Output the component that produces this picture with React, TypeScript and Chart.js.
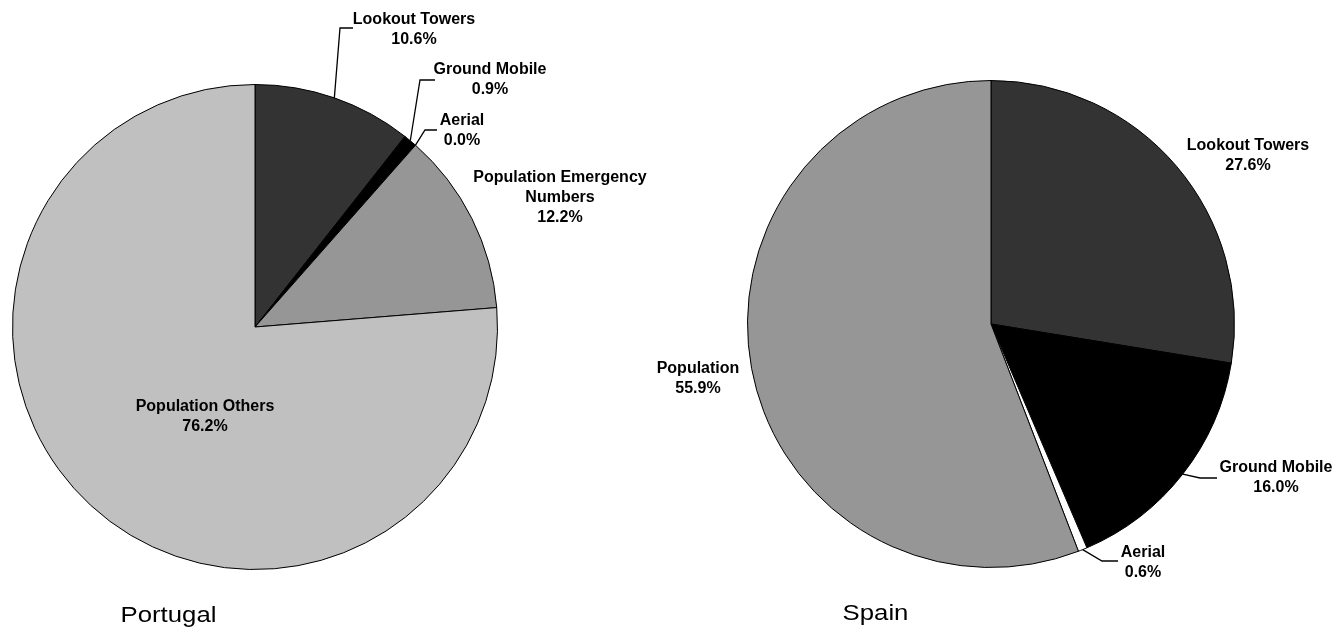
import React, { useEffect, useRef } from "react";
import { Chart, registerables } from "chart.js";

Chart.register(...registerables);

// ---- Data ----
const portugalCategories = [
  "Lookout Towers",
  "Ground Mobile",
  "Aerial",
  "Population Emergency Numbers",
  "Population Others",
];
const portugalValues = [10.6, 0.9, 0.0, 12.2, 76.2];
const portugalColors = ["#333333", "#000000", "#ffffff", "#969696", "#c0c0c0"];

const spainCategories = ["Lookout Towers", "Ground Mobile", "Aerial", "Population"];
const spainValues = [27.6, 16.0, 0.6, 55.9];
const spainColors = ["#333333", "#000000", "#ffffff", "#969696"];

// ---- Layout (pixels, relative to each pie's centre) ----
type LabelLayout = {
  lines: string[];
  dx: number;
  dy: number;
  leader?: { elbow: [number, number]; end: [number, number] };
};

const portugalLabels: LabelLayout[] = [
  { lines: ["Lookout Towers"], dx: 159, dy: -297.5, leader: { elbow: [85, -299], end: [98, -299] } },
  { lines: ["Ground Mobile"], dx: 235, dy: -247.5, leader: { elbow: [165, -247], end: [180, -247] } },
  { lines: ["Aerial"], dx: 207, dy: -196.5, leader: { elbow: [170, -197], end: [182, -197] } },
  { lines: ["Population Emergency", "Numbers"], dx: 305, dy: -129 },
  { lines: ["Population Others"], dx: -50, dy: 90 },
];

const spainLabels: LabelLayout[] = [
  { lines: ["Lookout Towers"], dx: 257, dy: -168.5 },
  { lines: ["Ground Mobile"], dx: 285, dy: 154, leader: { elbow: [209, 154], end: [226, 154] } },
  { lines: ["Aerial"], dx: 152, dy: 238.5, leader: { elbow: [111, 237], end: [127, 237] } },
  { lines: ["Population"], dx: -293, dy: 55 },
];

const W = 1344;
const H = 629;

type PieSpec = {
  title: string;
  titleDx: number;
  titleDy: number;
  cx: number;
  cy: number;
  r: number;
  categories: string[];
  values: number[];
  colors: string[];
  labels: LabelLayout[];
};

const pies: PieSpec[] = [
  {
    title: "Portugal",
    titleDx: -86.5,
    titleDy: 295,
    cx: 255,
    cy: 327,
    r: 243,
    categories: portugalCategories,
    values: portugalValues,
    colors: portugalColors,
    labels: portugalLabels,
  },
  {
    title: "Spain",
    titleDx: -115.5,
    titleDy: 296,
    cx: 991,
    cy: 324,
    r: 244,
    categories: spainCategories,
    values: spainValues,
    colors: spainColors,
    labels: spainLabels,
  },
];

const LABEL_FONT = 'bold 16px "Liberation Sans", Arial, sans-serif';
const TITLE_FONT = '22px "Liberation Sans", Arial, sans-serif';
const LINE_H = 20;

function makeLabelPlugin(spec: PieSpec) {
  return {
    id: "sliceLabels",
    afterDraw(chart: any) {
      const ctx: CanvasRenderingContext2D = chart.ctx;
      const meta = chart.getDatasetMeta(0);
      const first = meta.data[0];
      if (!first) return;
      const { x: ox, y: oy } = first.getProps(["x", "y"], true);

      ctx.save();
      ctx.fillStyle = "#000";
      ctx.strokeStyle = "#000";
      ctx.lineWidth = 1.3;

      spec.labels.forEach((lab, i) => {
        const arc = meta.data[i];
        const value = spec.values[i];
        const lines = [...lab.lines, `${value.toFixed(1)}%`];

        if (lab.leader && arc) {
          const p = arc.getProps(["x", "y", "startAngle", "endAngle", "outerRadius"], true);
          const mid = (p.startAngle + p.endAngle) / 2;
          const sx = p.x + Math.cos(mid) * p.outerRadius;
          const sy = p.y + Math.sin(mid) * p.outerRadius;
          ctx.beginPath();
          ctx.moveTo(sx, sy);
          ctx.lineTo(ox + lab.leader.elbow[0], oy + lab.leader.elbow[1]);
          ctx.lineTo(ox + lab.leader.end[0], oy + lab.leader.end[1]);
          ctx.stroke();
        }

        ctx.font = LABEL_FONT;
        ctx.textAlign = "center";
        ctx.textBaseline = "middle";
        const cx = ox + lab.dx;
        const cy = oy + lab.dy;
        lines.forEach((t, k) => {
          const ly = cy + (k - (lines.length - 1) / 2) * LINE_H;
          ctx.fillText(t, cx, ly);
        });
      });

      // country title, slightly widened
      ctx.font = TITLE_FONT;
      ctx.textAlign = "center";
      ctx.textBaseline = "alphabetic";
      ctx.translate(ox + spec.titleDx, oy + spec.titleDy);
      ctx.scale(1.17, 1);
      ctx.fillText(spec.title, 0, 0);
      ctx.restore();
    },
  };
}

function PieCanvas({ spec }: { spec: PieSpec }) {
  const ref = useRef<HTMLCanvasElement | null>(null);

  useEffect(() => {
    if (!ref.current) return;
    const chart = new Chart(ref.current, {
      type: "pie",
      data: {
        labels: spec.categories,
        datasets: [
          {
            data: spec.values,
            backgroundColor: spec.colors,
            borderColor: "#000000",
            borderWidth: 1,
          },
        ],
      },
      options: {
        responsive: false,
        animation: false,
        devicePixelRatio: 1,
        events: [],
        layout: {
          padding: {
            left: spec.cx - spec.r,
            right: W - (spec.cx + spec.r),
            top: spec.cy - spec.r,
            bottom: H - (spec.cy + spec.r),
          },
        },
        plugins: {
          legend: { display: false },
          tooltip: { enabled: false },
          title: { display: false },
        },
      },
      plugins: [makeLabelPlugin(spec)],
    });
    return () => chart.destroy();
  }, [spec]);

  return (
    <canvas
      ref={ref}
      width={W}
      height={H}
      style={{ position: "absolute", left: 0, top: 0, width: W, height: H }}
    />
  );
}

export default function App() {
  return (
    <div
      style={{
        position: "fixed",
        left: 0,
        top: 0,
        width: W,
        height: H,
        background: "#ffffff",
        overflow: "hidden",
      }}
    >
      {pies.map((p) => (
        <PieCanvas key={p.title} spec={p} />
      ))}
    </div>
  );
}
